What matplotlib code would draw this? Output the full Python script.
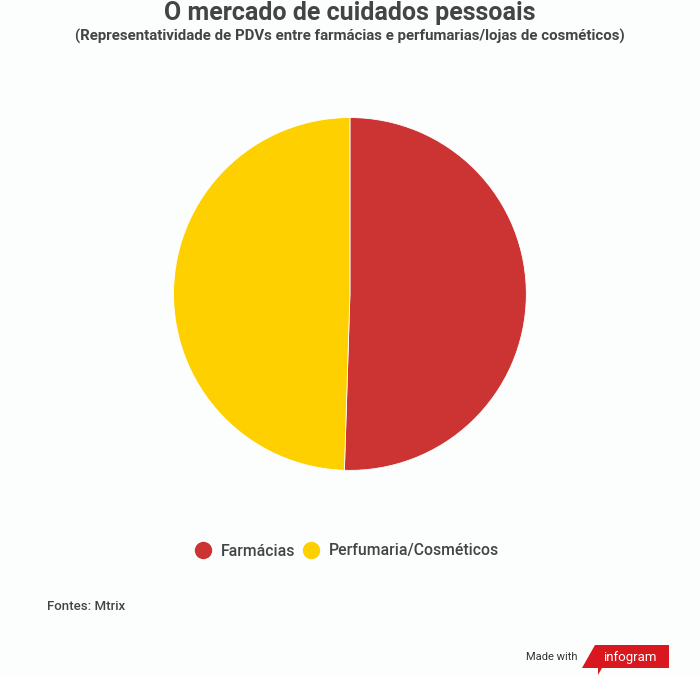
import matplotlib.pyplot as plt
from matplotlib.patches import Polygon
from matplotlib.lines import Line2D

labels = ['Farmácias', 'Perfumaria/Cosméticos']
values = [50.5, 49.5]
colors = ['#cc3333', '#ffd000']

bg = '#fcfdfd'
txt = '#444444'

plt.rcParams['font.family'] = ['Roboto', 'DejaVu Sans']

fig = plt.figure(figsize=(7, 6.75), dpi=100, facecolor=bg)

ax = fig.add_axes([0.2479, 0.303, 0.504, 0.523])
ax.pie(values, colors=colors, startangle=90, counterclock=False,
       wedgeprops=dict(edgecolor='white', linewidth=0.6))
ax.set_xlim(-1, 1)
ax.set_ylim(-1, 1)
ax.set_aspect('equal')
ax.axis('off')

fig.text(0.5, 1 - 13 / 675, 'O mercado de cuidados pessoais', ha='center', va='center',
         fontsize=18, fontweight='bold', color=txt)
fig.text(0.5, 1 - 36 / 675, '(Representatividade de PDVs entre farmácias e perfumarias/lojas de cosméticos)',
         ha='center', va='center', fontsize=10.8, fontweight='bold', color=txt)

# legenda
handles = [Line2D([0], [0], marker='o', color='none', markerfacecolor=c,
                  markeredgecolor=c, markersize=11.5) for c in colors]
fig.legend(handles, labels, loc='center', bbox_to_anchor=(0.495, 1 - 551 / 675), ncol=2,
           frameon=False, labelcolor=txt, handletextpad=0.6,
           columnspacing=0.45, handlelength=1.1,
           prop=dict(size=11.3, weight='medium'))

fig.text(47 / 700, 1 - 607 / 675, 'Fontes: Mtrix', ha='left', va='center',
         fontsize=9.5, fontweight='medium', color=txt)

# selo "Made with infogram"
fig.text(577 / 700, 1 - 657 / 675, 'Made with', ha='right', va='center',
         fontsize=8, color='#333333')
badge = Polygon([(595 / 700, 1 - 645 / 675), (669 / 700, 1 - 645 / 675),
                 (669 / 700, 1 - 668 / 675), (602 / 700, 1 - 668 / 675),
                 (598 / 700, 1 - 675 / 675), (598 / 700, 1 - 668 / 675),
                 (582 / 700, 1 - 668 / 675)],
                closed=True, transform=fig.transFigure, facecolor='#d9171f',
                edgecolor='none')
fig.patches.append(badge)
fig.text(630 / 700, 1 - 657 / 675, 'infogram', ha='center', va='center',
         fontsize=9.5, color='white')

fig.savefig('out.png', dpi=100, facecolor=bg)
